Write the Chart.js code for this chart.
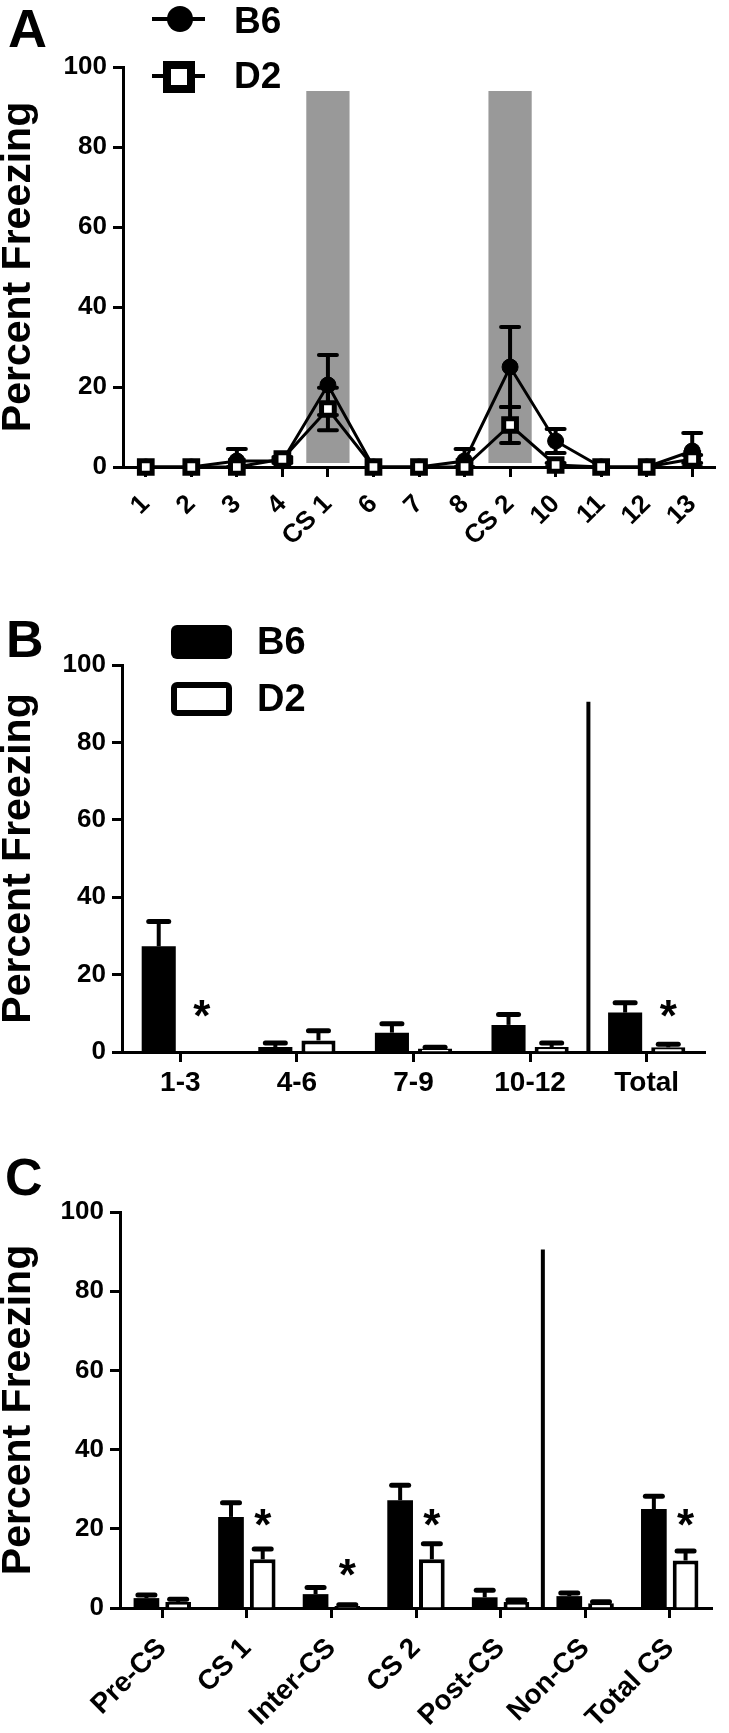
<!DOCTYPE html>
<html>
<head>
<meta charset="utf-8">
<script src="https://cdn.jsdelivr.net/npm/chart.js@4.4.1/dist/chart.umd.min.js"></script>
<style>
html, body { margin: 0; padding: 0; background: #fff; }
body { width: 729px; height: 1733px; position: relative; overflow: hidden; font-family: 'Liberation Sans', Arial, sans-serif; }
.panel { position: absolute; left: 0; width: 729px; }
.txt { position: absolute; font-weight: bold; line-height: 1; color: #000; white-space: nowrap; }
.sym { position: absolute; box-sizing: border-box; }
</style>
</head>
<body>
<div class="panel" style="top:0;height:560px"><canvas id="chartA" width="729" height="560"></canvas></div>
<div class="panel" style="top:560px;height:560px"><canvas id="chartB" width="729" height="560"></canvas></div>
<div class="panel" style="top:1120px;height:613px"><canvas id="chartC" width="729" height="613"></canvas></div>

<!-- panel letters -->
<div class="txt" style="left:8px;top:1px;font-size:54px">A</div>
<div class="txt" style="left:6px;top:613px;font-size:52px">B</div>
<div class="txt" style="left:5px;top:1151px;font-size:52px">C</div>

<!-- legend A -->
<div class="sym" style="left:152px;top:17px;width:53px;height:4px;background:#000"></div>
<div class="sym" style="left:167px;top:6px;width:26px;height:26px;border-radius:50%;background:#000"></div>
<div class="txt" style="left:234px;top:2px;font-size:37px">B6</div>
<div class="sym" style="left:152px;top:74px;width:53px;height:4px;background:#000"></div>
<div class="sym" style="left:163px;top:61px;width:32px;height:32px;border:8px solid #000;background:#fff"></div>
<div class="txt" style="left:234px;top:57px;font-size:37px">D2</div>

<!-- legend B -->
<div class="sym" style="left:171px;top:625px;width:61px;height:34px;border-radius:6px;background:#000"></div>
<div class="txt" style="left:257px;top:622px;font-size:38px">B6</div>
<div class="sym" style="left:171px;top:682px;width:61px;height:34px;border-radius:6px;border:6px solid #000;background:#fff"></div>
<div class="txt" style="left:257px;top:679px;font-size:38px">D2</div>

<script>
// ---------- data ----------
const trialLabels = ['1', '2', '3', '4', 'CS 1', '6', '7', '8', 'CS 2', '10', '11', '12', '13'];
const trialB6     = [0, 0, 1.5, 1.5, 20.5, 0, 0, 1.5, 25, 6.5, 0, 0, 4];
const trialB6Err  = [0, 0, 3, 0.5, 7.5, 0, 0, 3, 10, 3, 0, 0, 4.5];
const trialD2     = [0, 0, 0, 2, 14.5, 0, 0, 0, 10.5, 0.5, 0, 0, 2];
const trialD2Err  = [0, 0, 0, 0.5, 5.3, 0, 0, 0, 4.5, 0.5, 0, 0, 1];
const csBands     = [null, null, null, null, [1, 94], null, null, null, [1, 94], null, null, null, null];

const blockLabels = ['1-3', '4-6', '7-9', '10-12', 'Total'];
const blockB6     = [27.3, 1.3, 5, 7, 10.2];
const blockB6Err  = [6.4, 1, 2.3, 2.7, 2.5];
const blockD2     = [0, 3, 0.9, 1.3, 1.2];
const blockD2Err  = [0, 2.5, 0.3, 1, 0.8];
const blockStars  = [12, null, null, null, 12];
const blockSplitAfter = 3;

const periodLabels = ['Pre-CS', 'CS 1', 'Inter-CS', 'CS 2', 'Post-CS', 'Non-CS', 'Total CS'];
const periodB6     = [2.5, 23, 3.5, 27.2, 2.7, 3, 25];
const periodB6Err  = [0.8, 3.6, 1.7, 3.8, 1.8, 0.8, 3.2];
const periodD2     = [1.5, 12.3, 0.5, 12.3, 1.5, 1.2, 12];
const periodD2Err  = [0.7, 2.6, 0.3, 3.9, 0.5, 0.4, 2.4];
const periodStars  = [null, 23.5, 11, 23.5, null, null, 23.5];
const periodSplitAfter = 4;

const yTicks = [0, 20, 40, 60, 80, 100];
const splitTop = 90.5;

// ---------- helpers ----------
const FONT = "'Liberation Sans', Arial, sans-serif";

function yAxis(width) {
  return {
    min: 0, max: 100,
    afterBuildTicks(scale) { scale.ticks = yTicks.map(v => ({ value: v })); },
    ticks: { color: '#000', font: { family: FONT, size: 26, weight: 'bold' }, padding: 6 },
    grid: { drawOnChartArea: false, drawTicks: true, tickLength: 10, tickWidth: 3, tickColor: '#000' },
    border: { display: true, color: '#000', width: 3 },
    title: { display: true, text: 'Percent Freezing', color: '#000',
             font: { family: FONT, size: 41, weight: 'bold', lineHeight: 0.9 }, padding: 0 },
    afterFit(scale) { scale.width = width; }
  };
}
function xAxis(height, rot, size, pad) {
  return {
    type: 'category', offset: true,
    ticks: { color: '#000', font: { family: FONT, size: size, weight: 'bold' },
             minRotation: rot, maxRotation: rot, autoSkip: false, padding: pad },
    grid: { offset: false, drawOnChartArea: false, drawTicks: true, tickLength: 10, tickWidth: 3, tickColor: '#000' },
    border: { display: true, color: '#000', width: 3 },
    afterFit(scale) { scale.height = height; }
  };
}
function drawErr(chart, list) {
  const ctx = chart.ctx, ys = chart.scales.y;
  ctx.save();
  ctx.strokeStyle = '#000';
  list.forEach(s => {
    const meta = chart.getDatasetMeta(s.ds);
    const vals = chart.data.datasets[s.ds].data;
    meta.data.forEach((el, i) => {
      const v = vals[i], e = s.err[i];
      if (v == null || !e) return;
      const x = el.x;
      const yTop = ys.getPixelForValue(v + e);
      const yBot = ys.getPixelForValue(s.both ? Math.max(v - e, 0) : v);
      ctx.lineCap = 'butt';
      ctx.lineWidth = s.lw;
      ctx.beginPath(); ctx.moveTo(x, yBot); ctx.lineTo(x, yTop); ctx.stroke();
      ctx.lineCap = 'round';
      ctx.lineWidth = s.capLw;
      ctx.beginPath();
      ctx.moveTo(x - s.cap / 2, yTop); ctx.lineTo(x + s.cap / 2, yTop);
      if (s.both) { ctx.moveTo(x - s.cap / 2, yBot); ctx.lineTo(x + s.cap / 2, yBot); }
      ctx.stroke();
    });
  });
  ctx.restore();
}
function drawSplit(chart, after) {
  const xs = chart.scales.x, ys = chart.scales.y, ctx = chart.ctx;
  const x = (xs.getPixelForTick(after) + xs.getPixelForTick(after + 1)) / 2;
  ctx.save();
  ctx.strokeStyle = '#000'; ctx.lineWidth = 4;
  ctx.beginPath(); ctx.moveTo(x, ys.getPixelForValue(0)); ctx.lineTo(x, ys.getPixelForValue(splitTop)); ctx.stroke();
  ctx.restore();
}
function drawStars(chart, stars, size) {
  const meta = chart.getDatasetMeta(1), ys = chart.scales.y, ctx = chart.ctx;
  ctx.save();
  ctx.fillStyle = '#000';
  ctx.font = 'bold ' + size + 'px ' + FONT;
  ctx.textAlign = 'center';
  ctx.textBaseline = 'alphabetic';
  stars.forEach((v, i) => {
    if (v == null) return;
    ctx.fillText('*', meta.data[i].x, ys.getPixelForValue(v) + 0.58 * size);
  });
  ctx.restore();
}
const baseOpts = (pad) => ({
  responsive: false, animation: false, events: [],
  layout: { padding: pad },
  plugins: { legend: { display: false }, tooltip: { enabled: false } }
});

// ---------- Panel A ----------
new Chart(document.getElementById('chartA'), {
  type: 'bar',
  data: {
    labels: trialLabels,
    datasets: [
      { type: 'bar', label: 'CS', data: csBands, backgroundColor: '#999999', borderWidth: 0,
        barPercentage: 0.95, categoryPercentage: 1, order: 3 },
      { type: 'line', label: 'B6', data: trialB6, borderColor: '#000', borderWidth: 3, tension: 0,
        pointStyle: 'circle', pointRadius: 8, pointBackgroundColor: '#000', pointBorderColor: '#000',
        pointBorderWidth: 1, clip: false, order: 2 },
      { type: 'line', label: 'D2', data: trialD2, borderColor: '#000', borderWidth: 3, tension: 0,
        pointStyle: 'rect', pointRadius: 9, pointBackgroundColor: '#fff', pointBorderColor: '#000',
        pointBorderWidth: 5, clip: false, order: 1 }
    ]
  },
  options: Object.assign(baseOpts({ top: 67, right: 8, bottom: 0, left: 0 }), {
    scales: { x: xAxis(93, 45, 26, 12), y: yAxis(123) }
  }),
  plugins: [{
    id: 'errA',
    beforeDatasetDraw(chart, args) {
      if (args.index === 1) {
        drawErr(chart, [
          { ds: 1, err: trialB6Err, both: true, cap: 18, lw: 4, capLw: 4 },
          { ds: 2, err: trialD2Err, both: true, cap: 18, lw: 4, capLw: 4 }
        ]);
      }
    }
  }]
});

// ---------- Panel B ----------
new Chart(document.getElementById('chartB'), {
  type: 'bar',
  data: {
    labels: blockLabels,
    datasets: [
      { label: 'B6', data: blockB6, backgroundColor: '#000', borderColor: '#000', borderWidth: 0,
        barPercentage: 0.79, categoryPercentage: 0.74 },
      { label: 'D2', data: blockD2, backgroundColor: '#fff', borderColor: '#000', borderWidth: 4,
        barPercentage: 0.79, categoryPercentage: 0.74 }
    ]
  },
  options: Object.assign(baseOpts({ top: 105, right: 24, bottom: 0, left: 0 }), {
    scales: { x: xAxis(68, 0, 28, 4), y: yAxis(122) }
  }),
  plugins: [{
    id: 'extrasB',
    afterDatasetsDraw(chart) {
      drawErr(chart, [
        { ds: 0, err: blockB6Err, both: false, cap: 20, lw: 4, capLw: 5 },
        { ds: 1, err: blockD2Err, both: false, cap: 20, lw: 4, capLw: 5 }
      ]);
      drawSplit(chart, blockSplitAfter);
      drawStars(chart, blockStars, 44);
    }
  }]
});

// ---------- Panel C ----------
new Chart(document.getElementById('chartC'), {
  type: 'bar',
  data: {
    labels: periodLabels,
    datasets: [
      { label: 'B6', data: periodB6, backgroundColor: '#000', borderColor: '#000', borderWidth: 0,
        barPercentage: 0.81, categoryPercentage: 0.75 },
      { label: 'D2', data: periodD2, backgroundColor: '#fff', borderColor: '#000', borderWidth: 4,
        barPercentage: 0.81, categoryPercentage: 0.75 }
    ]
  },
  options: Object.assign(baseOpts({ top: 92, right: 17, bottom: 0, left: 0 }), {
    scales: { x: xAxis(125, 45, 28, 14), y: yAxis(120) }
  }),
  plugins: [{
    id: 'extrasC',
    afterDatasetsDraw(chart) {
      drawErr(chart, [
        { ds: 0, err: periodB6Err, both: false, cap: 17, lw: 4, capLw: 5 },
        { ds: 1, err: periodD2Err, both: false, cap: 17, lw: 4, capLw: 5 }
      ]);
      drawSplit(chart, periodSplitAfter);
      drawStars(chart, periodStars, 44);
    }
  }]
});
</script>
</body>
</html>
